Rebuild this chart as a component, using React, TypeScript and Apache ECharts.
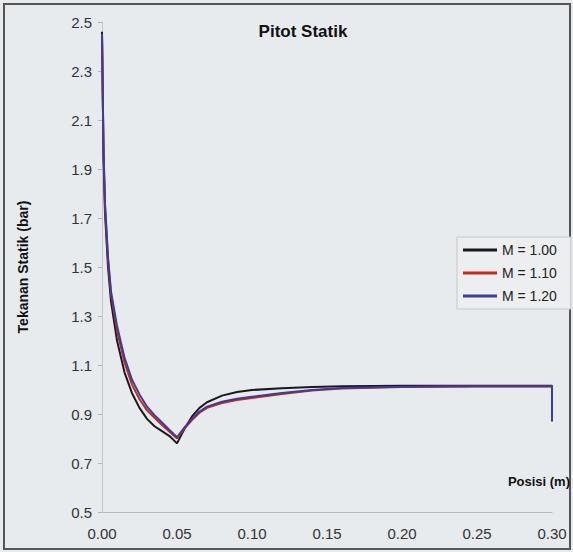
import React, { useEffect, useRef } from "react";
import * as echarts from "echarts";

const posisi = [0, 0.001, 0.002, 0.004, 0.006, 0.01, 0.015, 0.02, 0.025, 0.03, 0.035, 0.04, 0.045, 0.05, 0.055, 0.06, 0.065, 0.07, 0.08, 0.09, 0.1, 0.12, 0.14, 0.16, 0.2, 0.25, 0.3, 0.3];
const m100 = [2.46, 1.95, 1.72, 1.5, 1.36, 1.2, 1.07, 0.985, 0.925, 0.88, 0.85, 0.83, 0.81, 0.78, 0.84, 0.89, 0.925, 0.948, 0.975, 0.99, 0.998, 1.005, 1.01, 1.013, 1.015, 1.015, 1.015, 0.87];
const m110 = [2.45, 1.97, 1.75, 1.53, 1.39, 1.24, 1.11, 1.02, 0.96, 0.915, 0.885, 0.855, 0.828, 0.8, 0.84, 0.875, 0.905, 0.925, 0.945, 0.957, 0.965, 0.982, 0.996, 1.004, 1.01, 1.012, 1.012, 0.87];
const m120 = [2.45, 1.98, 1.76, 1.54, 1.4, 1.26, 1.13, 1.04, 0.98, 0.93, 0.895, 0.865, 0.835, 0.805, 0.845, 0.88, 0.91, 0.93, 0.95, 0.962, 0.97, 0.986, 0.998, 1.006, 1.011, 1.013, 1.013, 0.87];
const seriesNames = ["M = 1.00", "M = 1.10", "M = 1.20"];
const seriesColors = ["#1a1a1a", "#c8281e", "#3c3c9c"];

const FONT = "Liberation Sans, Arial, sans-serif";

export default function App() {
  const ref = useRef<HTMLDivElement>(null);
  useEffect(() => {
    if (!ref.current) return;
    const chart = echarts.init(ref.current, null, { renderer: "svg" });
    const all = [m100, m110, m120];
    chart.setOption({
      animation: false,
      backgroundColor: "#e8ebee",
      title: {
        text: "Pitot Statik",
        left: 298,
        top: 18,
        textAlign: "center",
        textStyle: { fontFamily: FONT, fontSize: 17, fontWeight: "bold", color: "#111" },
      },
      grid: { left: 102, right: 21, top: 22, bottom: 40 },
      legend: {
        orient: "vertical",
        left: 457,
        top: 237,
        data: seriesNames,
        itemWidth: 34,
        itemHeight: 3,
        itemGap: 9,
        icon: "rect",
        padding: [6, 14, 6, 6],
        borderColor: "#c4c7ca",
        borderWidth: 1,
        backgroundColor: "#eceef0",
        textStyle: { fontFamily: FONT, fontSize: 14, color: "#222" },
      },
      xAxis: {
        type: "value",
        min: 0,
        max: 0.3,
        interval: 0.05,
        name: "Posisi (m)",
        nameLocation: "end",
        nameGap: 0,
        nameTextStyle: {
          fontFamily: FONT,
          fontSize: 13,
          fontWeight: "bold",
          color: "#111",
          align: "right",
          verticalAlign: "bottom",
          padding: [0, -18, 24, 0],
        },
        axisLine: { show: true, lineStyle: { color: "#b8bcc0", width: 1 } },
        axisTick: { show: false },
        splitLine: { show: false },
        axisLabel: {
          fontFamily: FONT,
          fontSize: 15,
          color: "#333",
          margin: 14,
          formatter: (v: number) => v.toFixed(2),
        },
      },
      yAxis: {
        type: "value",
        min: 0.5,
        max: 2.5,
        interval: 0.2,
        name: "Tekanan Statik (bar)",
        nameLocation: "middle",
        nameGap: 72,
        nameRotate: 90,
        nameTextStyle: { fontFamily: FONT, fontSize: 14, fontWeight: "bold", color: "#111" },
        axisLine: { show: true, lineStyle: { color: "#c4c7ca", width: 1 } },
        axisTick: { show: true, length: 4, lineStyle: { color: "#b0b4b8" } },
        splitLine: { show: false },
        axisLabel: {
          fontFamily: FONT,
          fontSize: 15,
          color: "#333",
          margin: 10,
          formatter: (v: number) => v.toFixed(1),
        },
      },
      series: seriesNames.map((name, i) => ({
        name,
        type: "line",
        data: posisi.map((x, j) => [x, all[i][j]]),
        showSymbol: false,
        symbol: "none",
        color: seriesColors[i],
        lineStyle: { width: 2, color: seriesColors[i] },
      })),
      graphic: [
        {
          type: "rect",
          shape: { x: 4, y: 4, width: 566, height: 545 },
          style: { fill: "none", stroke: "#555", lineWidth: 2 },
          silent: true,
        },
      ],
    });
    return () => chart.dispose();
  }, []);
  return (
    <div
      ref={ref}
      style={{ position: "fixed", left: 0, top: 0, width: 573, height: 552 }}
    />
  );
}
